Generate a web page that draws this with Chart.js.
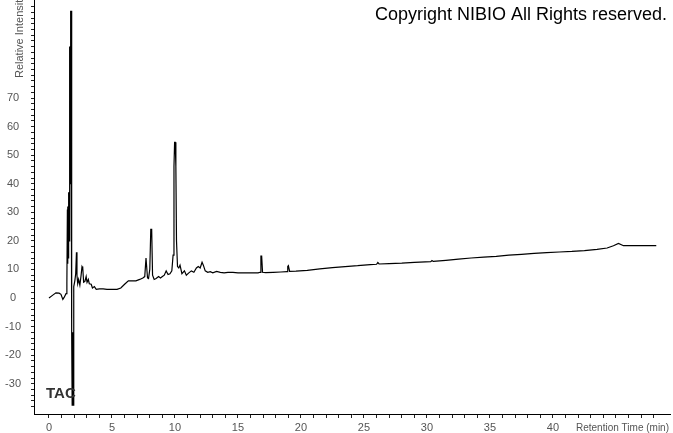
<!DOCTYPE html>
<html>
<head>
<meta charset="utf-8">
<script src="https://cdn.jsdelivr.net/npm/chart.js@4/dist/chart.umd.min.js"></script>
<style>
  body { margin: 0; background: #fff; }
  #wrap { width: 673px; height: 433px; }
</style>
</head>
<body>
<div id="wrap"><canvas id="chart" width="673" height="433"></canvas></div>
<script>
// retention time (min) and relative intensity
const times = [
  0.0, 0.3, 0.55, 0.8, 0.95, 1.1, 1.2, 1.35, 1.42,
  1.46, 1.48, 1.50, 1.52, 1.54, 1.56, 1.58, 1.60, 1.62, 1.64, 1.66, 1.68, 1.70, 1.72, 1.74, 1.76, 1.78,
  1.80, 1.82, 1.84, 1.86, 1.88, 1.90, 1.92, 1.95, 1.98,
  2.05, 2.12, 2.18, 2.22, 2.28, 2.35, 2.45, 2.55, 2.62, 2.68, 2.75, 2.85, 2.95, 3.02, 3.12, 3.2, 3.35, 3.45, 3.6, 3.75,
  4.0, 4.3, 4.6, 5.0, 5.4, 5.7, 6.0, 6.3, 6.6, 6.9, 7.2, 7.45, 7.6, 7.7, 7.75, 7.82, 7.9,
  8.0, 8.08, 8.15, 8.22, 8.35, 8.5, 8.7, 8.85, 9.0, 9.15, 9.3, 9.45, 9.6, 9.75, 9.85, 9.92, 9.97,
  10.02, 10.07, 10.12, 10.2, 10.3, 10.4, 10.55, 10.75, 10.9, 11.1, 11.3, 11.5, 11.7, 11.85,
  12.0, 12.15, 12.25, 12.4, 12.6, 12.8, 13.0, 13.3, 13.6, 13.9, 14.2, 14.6, 15.0, 15.5, 16.0, 16.6,
  16.75, 16.82, 16.88, 16.95, 17.2, 17.8, 18.4, 18.9, 18.95, 19.0, 19.1, 19.6, 20.5, 21.5, 22.5, 23.5,
  24.5, 25.5, 26.0, 26.1, 26.2, 27.0, 28.0, 29.0, 30.3, 30.4, 30.5, 31.5, 32.5, 33.5, 34.5, 35.5,
  36.5, 37.5, 38.5, 39.5, 40.5, 41.5, 42.5, 43.5, 44.3, 44.8, 45.2, 45.6, 46.5, 47.5, 48.2
];
const intensity = [
  0, 1.0, 1.8, 1.7, 1.3, -0.5, 0.2, 1.5, 5,
  31, 12, 32, 14, 37, 16, 37, 20, 88, 30, 88, 40, 88, 50, 100.5, 60, 100.5,
  2, -12, -37.5, -12, -37.5, -12, -37.5, -10, 4,
  6, 8.5, 16, 8, 5, 6.5, 4.5, 8, 11, 10.5, 5.5, 5.8, 7.5, 5.5, 6.5, 5, 4.8, 3.5, 4, 3,
  3.2, 3.2, 3.0, 3.0, 3.0, 3.5, 4.8, 6.0, 6.0, 6.0, 6.5, 7, 7.5, 14, 14, 7, 6.8,
  10, 24, 24, 8, 6.5, 6.8, 7.5, 7, 7.5, 8, 9.5, 8.2, 8.5, 9.5, 15, 46, 54.5,
  54.5, 46, 20, 11, 10.5, 11.5, 8.5, 9.5, 8, 8.8, 9.5, 9, 10.5, 11,
  10.5, 12.5, 11.5, 9.5, 9, 9.2, 8.8, 9.3, 9.0, 8.8, 9.0, 9.0, 8.8, 8.8, 8.8, 8.8,
  9, 14.7, 14.7, 9, 8.9, 9.0, 9.1, 9.2, 11, 11.3, 9.3, 9.4, 9.7, 10.2, 10.6, 11.0,
  11.3, 11.7, 11.8, 12.4, 11.9, 12.0, 12.2, 12.5, 12.7, 13.1, 12.8, 13.2, 13.6, 14.0, 14.3, 14.6,
  15.0, 15.3, 15.6, 15.9, 16.1, 16.3, 16.6, 17.0, 17.5, 18.3, 19.1, 18.3, 18.3, 18.3, 18.3
];

const xLabels = [0, 5, 10, 15, 20, 25, 30, 35, 40];
const yLabels = [-30, -20, -10, 0, 10, 20, 30, 40, 50, 60, 70];

const points = times.map((t, i) => ({ x: t, y: intensity[i] }));

const labelColor = '#555';
const tickFont = { family: "'Liberation Sans', Arial, sans-serif", size: 11 };

// texts that sit outside the normal chart furniture
const extraText = {
  id: 'extraText',
  afterDraw(chart) {
    const ctx = chart.ctx;
    ctx.save();
    ctx.fillStyle = '#000';
    ctx.font = "18px 'Liberation Sans', Arial, sans-serif";
    ctx.textAlign = 'right';
    ctx.textBaseline = 'alphabetic';
    ctx.fillText('Copyright NIBIO All Rights reserved.', 667, 20);

    ctx.fillStyle = '#333';
    ctx.font = "bold 15px 'Liberation Sans', Arial, sans-serif";
    ctx.textAlign = 'left';
    ctx.fillText('TAC', 46, 398);

    ctx.fillStyle = labelColor;
    ctx.font = "10px 'Liberation Sans', Arial, sans-serif";
    ctx.textAlign = 'left';
    ctx.fillText('Retention Time (min)', 576, 431);

    ctx.font = "11px 'Liberation Sans', Arial, sans-serif";
    ctx.translate(23, 78);
    ctx.rotate(-Math.PI / 2);
    ctx.fillText('Relative Intensity', 0, 0);
    ctx.restore();
  }
};

const ctx = document.getElementById('chart').getContext('2d');
const chart = new Chart(ctx, {
  type: 'line',
  data: {
    datasets: [{
      data: points,
      borderColor: '#000',
      borderWidth: 1.2,
      pointRadius: 0,
      tension: 0,
      fill: false
    }]
  },
  options: {
    responsive: false,
    animation: false,
    devicePixelRatio: 1,
    layout: { padding: { top: 0, left: 0, right: 3, bottom: 0 } },
    plugins: { legend: { display: false }, tooltip: { enabled: false } },
    scales: {
      x: {
        type: 'linear',
        min: -1.19,
        max: 49.29,
        grid: { drawOnChartArea: false, tickLength: 4, color: '#222' },
        border: { color: '#000', width: 1 },
        ticks: {
          stepSize: 1,
          autoSkip: false,
          maxRotation: 0,
          padding: 3,
          color: labelColor,
          font: tickFont,
          callback: (v) => xLabels.includes(v) ? String(v) : ''
        },
        afterBuildTicks: (axis) => {
          axis.ticks = axis.ticks.filter(t => Math.abs(t.value - Math.round(t.value)) < 1e-6);
        },
        afterFit: (scale) => {
          scale.height = 19;
          scale.paddingLeft = 0;
          scale.paddingRight = 0;
        }
      },
      y: {
        min: -40.6,
        max: 104.3,
        grid: { drawOnChartArea: false, tickLength: 3, color: '#222' },
        border: { color: '#000', width: 1 },
        ticks: {
          stepSize: 2,
          autoSkip: false,
          padding: 10,
          crossAlign: 'center',
          color: labelColor,
          font: tickFont,
          callback: (v) => yLabels.includes(v) ? String(v) : ''
        },
        afterBuildTicks: (axis) => {
          axis.ticks = axis.ticks.filter(t => Math.abs(t.value / 2 - Math.round(t.value / 2)) < 1e-6);
        },
        afterFit: (scale) => {
          scale.width = 34;
          scale.paddingTop = 0;
          scale.paddingBottom = 0;
        }
      }
    }
  },
  plugins: [extraText]
});
</script>
</body>
</html>
